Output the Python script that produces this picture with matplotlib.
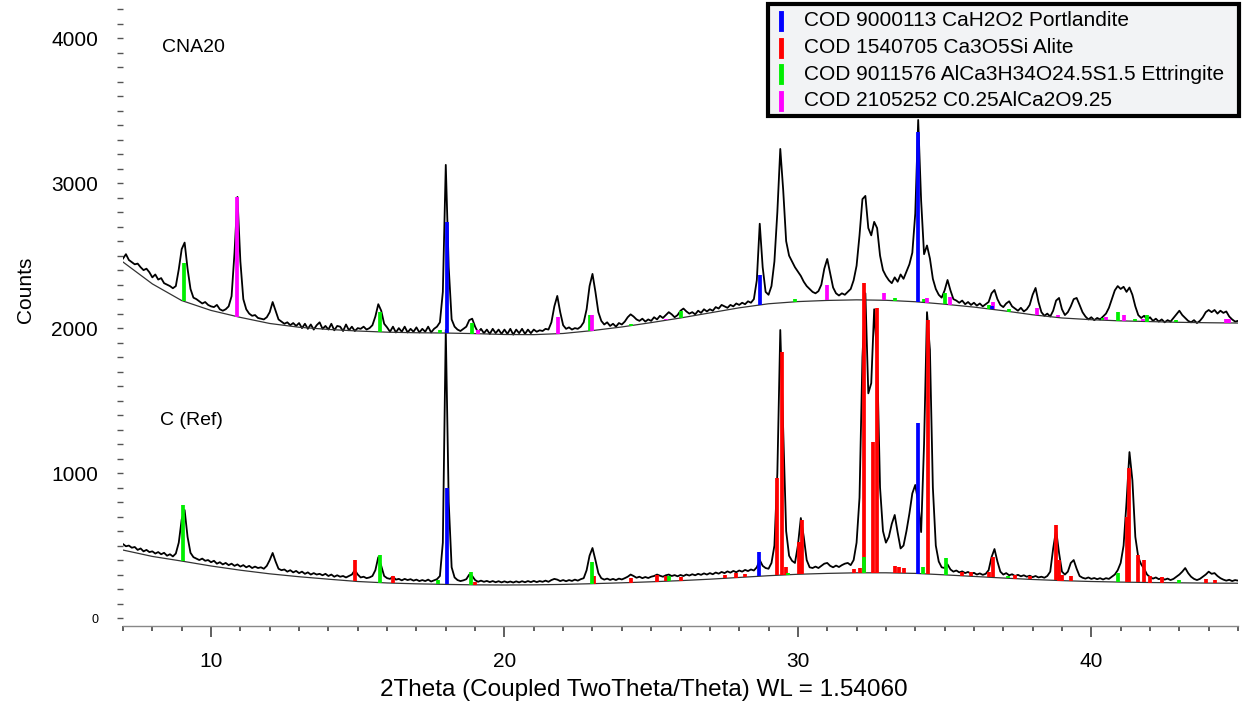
import numpy as np
import matplotlib.pyplot as plt
from matplotlib.patches import Rectangle
from matplotlib.ticker import MultipleLocator, FixedLocator

plt.rcParams['font.family'] = ['Liberation Sans', 'DejaVu Sans']

# scan grid: 7.0 .. 45.0 deg 2theta, step 0.1
two_theta = np.round(7.0 + 0.1 * np.arange(381), 1)

# CNA20 scan (counts, already offset)
cna20 = [
    2480, 2510, 2470, 2455, 2440, 2445, 2420, 2400, 2410, 2385,
    2350, 2370, 2335, 2345, 2310, 2300, 2290, 2275, 2290, 2405,
    2545, 2590, 2410, 2270, 2210, 2200, 2185, 2170, 2180, 2160,
    2150, 2145, 2160, 2130, 2120, 2130, 2150, 2220, 2520, 2905,
    2460, 2200, 2130, 2100, 2085, 2090, 2070, 2065, 2060, 2075,
    2110, 2180, 2120, 2060, 2045, 2030, 2040, 2020, 2035, 2015,
    2035, 2000, 2030, 1995, 2025, 1990, 2020, 2040, 1995, 2015,
    1990, 2030, 1985, 2015, 2010, 1980, 2025, 1985, 2010, 1980,
    2000, 1995, 2010, 1990, 2000, 2020, 2080, 2165, 2120, 2030,
    2005, 1975, 2010, 1970, 2000, 1975, 2010, 1970, 1995, 1975,
    2005, 1970, 1995, 1975, 2010, 1970, 1995, 2010, 2040, 2250,
    3126, 2420, 2060, 2010, 1990, 1980, 1995, 2010, 2055, 2065,
    2010, 1970, 1995, 1965, 1990, 1960, 1995, 1965, 1990, 1960,
    1990, 1960, 1995, 1955, 1990, 1965, 1995, 1960, 1990, 1965,
    1990, 1975, 1985, 1980, 1995, 1990, 2040, 2150, 2222, 2110,
    2020, 1995, 2005, 1990, 2000, 1995, 2010, 2040, 2130, 2290,
    2374, 2250, 2110, 2050, 2025, 2040, 2015, 2030, 2010, 2035,
    2025, 2045, 2075, 2095, 2080, 2060, 2050, 2065, 2045, 2060,
    2050, 2075, 2060, 2085, 2070, 2090, 2110, 2095, 2075, 2090,
    2120, 2135, 2115, 2100, 2110, 2095, 2120, 2105, 2130, 2115,
    2130, 2120, 2145, 2135, 2160, 2150, 2140, 2160, 2150, 2170,
    2160, 2175, 2165, 2185, 2175, 2200, 2330, 2720, 2420, 2250,
    2230, 2290, 2460, 2800, 3236, 2950, 2600, 2500, 2460, 2420,
    2390, 2360, 2320, 2290, 2270, 2250, 2240, 2255, 2300, 2410,
    2477, 2380, 2280, 2240, 2225, 2240, 2230, 2250, 2270, 2330,
    2430, 2640, 2890, 2912, 2690, 2640, 2733, 2690, 2500, 2400,
    2360, 2330, 2310, 2350, 2320, 2370, 2340, 2390, 2440, 2520,
    2790, 3436, 2880, 2510, 2570, 2480, 2340, 2270, 2230, 2210,
    2260, 2332, 2260, 2200, 2190, 2175, 2190, 2165, 2180, 2160,
    2175, 2155, 2170, 2150, 2165, 2180, 2240, 2263, 2200, 2160,
    2145, 2170, 2185, 2150, 2135, 2120, 2140, 2115, 2130, 2160,
    2230, 2277, 2180, 2110, 2085, 2100, 2080, 2120, 2190, 2208,
    2130, 2090, 2110, 2150, 2200, 2208, 2160, 2110, 2080, 2060,
    2075, 2055, 2070, 2060, 2080, 2100, 2140, 2200, 2260, 2290,
    2270, 2285, 2250, 2280, 2230, 2150, 2090, 2070, 2085, 2060,
    2075, 2050, 2065, 2045, 2060, 2040, 2055, 2045, 2070, 2095,
    2120, 2090, 2070, 2050, 2040, 2055, 2035, 2050, 2075, 2110,
    2125, 2110, 2125, 2100, 2120, 2105, 2115, 2080, 2060, 2045,
    2050,
]

# reference cement scan
c_ref = [
    510, 495, 500, 485, 490, 470, 480, 460, 470, 455,
    460, 445, 455, 440, 450, 430, 440, 425, 445, 520,
    680, 745, 560, 450, 420, 410, 400, 410, 395, 400,
    385, 395, 375, 385, 370, 380, 365, 375, 360, 370,
    355, 365, 350, 360, 345, 355, 345, 350, 340, 360,
    400, 449, 390, 340, 330, 335, 320, 330, 315, 325,
    310, 320, 305, 315, 300, 310, 300, 305, 295, 305,
    290, 300, 285, 295, 285, 290, 280, 290, 300, 330,
    300, 280, 285, 275, 280, 290, 330, 420, 360, 290,
    275, 270, 285, 265, 270, 260, 270, 262, 268, 258,
    265, 255, 262, 255, 265, 252, 260, 268, 290, 520,
    1987, 800, 350, 280, 262, 255, 260, 268, 300, 290,
    262, 250, 258, 250, 256, 248, 255, 247, 254, 246,
    253, 246, 252, 245, 253, 246, 254, 247, 255, 248,
    256, 248, 255, 250, 258, 250, 262, 270, 265, 255,
    262, 254, 262, 256, 265, 258, 268, 275, 330, 430,
    483, 400, 310, 275, 265, 272, 263, 270, 262, 272,
    266, 275, 285, 300, 290, 278, 285, 275, 283, 276,
    285, 290, 300, 292, 285, 295, 300, 290, 296, 288,
    297, 290, 300, 293, 302, 295, 305, 298, 308, 300,
    310, 302, 314, 306, 318, 310, 322, 313, 325, 316,
    328, 320, 332, 324, 335, 328, 350, 400, 360, 345,
    340, 380, 500, 1000, 1987, 1300, 600, 430, 395, 380,
    500, 690, 560, 400, 350, 345, 355, 345, 360, 375,
    380, 360, 350, 362, 352, 365, 375, 380, 365, 400,
    520, 830, 1800, 2240, 1550, 1620, 2130, 1800, 900, 600,
    520, 560, 650, 711, 590, 480, 500, 600, 720, 860,
    918, 800, 593, 1200, 2110, 1850, 900, 500, 390, 350,
    345, 370, 335, 320, 328, 315, 322, 310, 318, 305,
    312, 300, 308, 298, 305, 330, 420, 476, 390, 320,
    300, 310, 295, 302, 290, 298, 288, 295, 285, 292,
    282, 290, 280, 285, 278, 290, 320, 480, 607, 450,
    320, 300, 320, 380, 400, 340, 290, 278, 272, 280,
    270, 276, 268, 275, 266, 275, 270, 285, 300, 330,
    380, 500, 800, 1145, 950, 560, 420, 370, 340, 300,
    282, 272, 280, 268, 276, 265, 272, 262, 270, 285,
    300, 320, 345, 310, 285, 270, 262, 270, 285, 300,
    320, 305, 310, 290, 275, 265, 258, 264, 255, 262,
    258,
]

# fitted backgrounds, one knot per degree
bg_x = list(range(7, 46))
bg_cna20 = [2456, 2305, 2190, 2122, 2074, 2032, 2006, 1991, 1980, 1972,
            1968, 1966, 1962, 1956, 1955, 1963, 1983, 2008, 2038, 2070,
            2105, 2140, 2168, 2183, 2191, 2195, 2192, 2182, 2165, 2145,
            2120, 2092, 2070, 2058, 2050, 2045, 2040, 2037, 2035]
bg_c_ref = [469, 425, 393, 359, 330, 305, 285, 268, 252, 242,
            236, 232, 229, 228, 229, 232, 237, 243, 250, 258,
            268, 280, 292, 302, 308, 312, 312, 308, 298, 287,
            276, 266, 258, 252, 248, 245, 243, 241, 240]

# reference patterns (stick position, top of stick in counts)
phase_names = ['COD 9000113 CaH2O2 Portlandite',
               'COD 1540705 Ca3O5Si Alite',
               'COD 9011576 AlCa3H34O24.5S1.5 Ettringite',
               'COD 2105252 C0.25AlCa2O9.25']
phase_colors = ['#0000ff', '#ff0000', '#00ee00', '#ff00ff']

cna20_portlandite_pos = [18.05, 28.7, 34.1, 36.6]
cna20_portlandite_top = [2732, 2367, 3353, 2150]
cna20_ettringite_pos = [9.08, 15.75, 17.8, 18.9, 22.9, 24.3, 26.0, 27.5, 29.9,
                        33.3, 34.3, 35.0, 36.5, 37.2, 40.4, 40.9, 41.5, 41.9, 42.9]
cna20_ettringite_top = [2450, 2111, 1990, 2035, 2090, 2030, 2118, 2125, 2200,
                        2210, 2200, 2243, 2160, 2135, 2070, 2111, 2065, 2090, 2055]
cna20_carbo_pos = [10.88, 19.1, 21.82, 23.0, 25.5, 31.0, 32.95, 34.4, 35.17,
                   36.65, 38.15, 38.85, 40.5, 41.1, 41.75, 44.6, 44.7]
cna20_carbo_top = [2905, 1985, 2077, 2090, 2060, 2298, 2243, 2205, 2215,
                   2180, 2139, 2090, 2075, 2090, 2065, 2060, 2060]

c_ref_portlandite_pos = [18.05, 28.67, 34.1]
c_ref_portlandite_top = [897, 455, 1345]
c_ref_alite_pos = [14.9, 16.2, 19.0, 23.05, 24.3, 25.2, 25.5, 26.0, 27.5, 27.9,
                   28.2, 29.3, 29.45, 29.6, 30.03, 30.15, 31.9, 32.1, 32.25,
                   32.55, 32.68, 33.3, 33.45, 33.6, 34.45, 35.6, 35.9, 36.5,
                   36.65, 37.4, 37.9, 38.8, 38.9, 39.0, 39.3, 41.2, 41.3,
                   41.6, 41.8, 42.0, 42.4, 43.9, 44.2]
c_ref_alite_top = [400, 290, 250, 290, 275, 300, 290, 285, 300, 310,
                   305, 966, 1835, 350, 524, 676, 340, 345, 2311,
                   1214, 2139, 360, 350, 345, 2056, 320, 315, 320,
                   421, 300, 290, 642, 400, 300, 290, 700, 1035,
                   435, 400, 290, 280, 270, 265]
c_ref_ettringite_pos = [9.05, 15.75, 17.75, 18.85, 23.0, 25.6, 29.65, 32.25,
                        34.26, 35.05, 37.15, 40.9, 43.0]
c_ref_ettringite_top = [780, 435, 260, 317, 386, 290, 310, 421,
                        352, 414, 290, 310, 260]

fig = plt.figure(figsize=(12.45, 7.06), dpi=100)
ax = fig.add_axes([0.0988, 0.1133, 0.8956, 0.8825])

ax.plot(two_theta, cna20, color='black', lw=1.3, zorder=2)
ax.plot(two_theta, c_ref, color='black', lw=1.3, zorder=2)
ax.plot(bg_x, bg_cna20, color='#333333', lw=0.9, zorder=2)
ax.plot(bg_x, bg_c_ref, color='#333333', lw=0.9, zorder=2)


def sticks(pos, top, bg, color):
    base = np.interp(pos, bg_x, bg)
    ax.vlines(pos, base, top, colors=color, lw=2.7, zorder=3)


sticks(cna20_ettringite_pos, cna20_ettringite_top, bg_cna20, phase_colors[2])
sticks(cna20_carbo_pos, cna20_carbo_top, bg_cna20, phase_colors[3])
sticks(cna20_portlandite_pos, cna20_portlandite_top, bg_cna20, phase_colors[0])
sticks(c_ref_alite_pos, c_ref_alite_top, bg_c_ref, phase_colors[1])
sticks(c_ref_ettringite_pos, c_ref_ettringite_top, bg_c_ref, phase_colors[2])
sticks(c_ref_portlandite_pos, c_ref_portlandite_top, bg_c_ref, phase_colors[0])

ax.text(8.33, 3933, 'CNA20', fontsize=14, va='center', ha='left')
ax.text(8.26, 1366, 'C (Ref)', fontsize=14, va='center', ha='left')

ax.set_xlim(7, 45)
ax.set_ylim(-55, 4243)

for s in ['top', 'right', 'left']:
    ax.spines[s].set_visible(False)
ax.spines['bottom'].set_color('#888888')
ax.spines['bottom'].set_linewidth(1.0)

ax.xaxis.set_major_locator(FixedLocator([10, 20, 30, 40]))
ax.xaxis.set_minor_locator(MultipleLocator(1))
ax.tick_params(axis='x', which='major', length=8, width=1.2, color='#444444',
               labelsize=15, pad=11)
ax.tick_params(axis='x', which='minor', length=3.5, width=1.2, color='#444444')

ax.yaxis.set_major_locator(FixedLocator([0, 1000, 2000, 3000, 4000]))
ax.yaxis.set_minor_locator(MultipleLocator(100))
ax.set_yticklabels(['0', '1000', '2000', '3000', '4000'])
ax.tick_params(axis='y', which='both', length=4, width=1.0, color='#555555',
               labelsize=15, pad=14)
ax.get_yticklabels()[0].set_fontsize(9)

fig.text(25 / 1245, 1 - 290 / 706, 'Counts', rotation=90, fontsize=15,
         ha='center', va='center')
fig.text(644 / 1245, 1 - 690 / 706,
         '2Theta (Coupled TwoTheta/Theta) WL = 1.54060',
         fontsize=17.5, ha='center', va='center')

# phase legend box
fig.patches.append(Rectangle((768 / 1245, 1 - 116 / 706), 471 / 1245, 112 / 706,
                             transform=fig.transFigure, facecolor='#f2f3f5',
                             edgecolor='black', lw=3, zorder=5))
for i, (name, col) in enumerate(zip(phase_names, phase_colors)):
    yc = 1 - (21 + 26.5 * i) / 706
    fig.add_artist(plt.Line2D([781 / 1245, 781 / 1245],
                              [yc - 8 / 706, yc + 8 / 706],
                              color=col, lw=3.5, transform=fig.transFigure,
                              zorder=6))
    fig.text(804 / 1245, yc, name, fontsize=15, ha='left', va='center',
             zorder=6)

fig.savefig('out.png', dpi=100)
